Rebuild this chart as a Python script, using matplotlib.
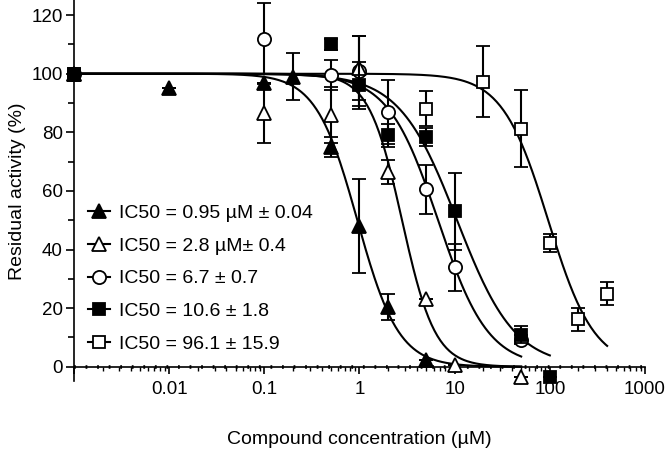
import numpy as np
import matplotlib
matplotlib.use('Agg')
import matplotlib.pyplot as plt
from matplotlib.lines import Line2D
from matplotlib.ticker import LogLocator, NullFormatter, FixedLocator, MultipleLocator

plt.rcParams['font.family'] = ['Liberation Sans', 'DejaVu Sans']

# Concentrations (uM), residual activity (%) and error bars per compound
tri_f_x = [0.001, 0.01, 0.1, 0.2, 0.5, 1, 2, 5]
tri_f_y = [100, 95, 97, 99, 75, 48, 20.5, 2.3]
tri_f_err = [0, 0, 0, 8, 3.5, 16, 4.5, 0]

tri_o_x = [0.001, 0.1, 0.5, 1, 2, 5, 10, 50]
tri_o_y = [100, 86.5, 86, 102, 66.5, 23, 0.6, -3.4]
tri_o_err = [0, 10, 9.5, 11, 4, 0, 0, 0]

circ_x = [0.001, 0.1, 0.5, 1, 2, 5, 10, 50]
circ_y = [100, 112, 99.6, 101, 87, 60.5, 34, 9.3]
circ_err = [0, 12, 5, 12, 11, 8.5, 8, 1.5]

sq_f_x = [0.001, 0.5, 1, 2, 5, 10, 50, 100]
sq_f_y = [100, 110, 96, 79, 78.5, 53, 11, -3.4]
sq_f_err = [0, 2, 8, 4, 3, 13, 3, 0]

sq_o_x = [0.001, 5, 20, 50, 100, 200, 400]
sq_o_y = [100, 88, 97.3, 81.3, 42.3, 16.2, 25]
sq_o_err = [0, 6, 12, 13, 3, 4, 4]

# Fit parameters (IC50, Hill slope, last x of fitted curve)
ic50s = [0.95, 2.8, 6.7, 10.6, 96.1]
hills = [2.0, 2.5, 1.65, 1.43, 1.8]
curve_ends = [50, 50, 50, 100, 400]

labels = ['IC50 = 0.95 \u00b5M \u00b1 0.04',
          'IC50 = 2.8 \u00b5M\u00b1 0.4',
          'IC50 = 6.7 \u00b1 0.7',
          'IC50 = 10.6 \u00b1 1.8',
          'IC50 = 96.1 \u00b1 15.9']

# data, marker, face colour, marker size, drawing order
series = [
    (tri_f_x, tri_f_y, tri_f_err, '^', 'k', 9.5, 3.5),
    (tri_o_x, tri_o_y, tri_o_err, '^', 'white', 9.5, 3.3),
    (circ_x, circ_y, circ_err, 'o', 'white', 9.5, 3.2),
    (sq_f_x, sq_f_y, sq_f_err, 's', 'k', 8, 3.4),
    (sq_o_x, sq_o_y, sq_o_err, 's', 'white', 8, 3.1),
]

fig = plt.figure(figsize=(6.66, 4.53), dpi=100)
ax = fig.add_axes([0.111, 0.158, 0.8575, 0.841])

# fitted dose-response curves
for ic50, h, xend in zip(ic50s, hills, curve_ends):
    xc = np.logspace(-3, np.log10(xend), 300)
    yc = 100 / (1 + (xc / ic50) ** h)
    ax.plot(xc, yc, color='k', lw=1.5, zorder=2)

handles = []
for (x, y, err, mk, fc, ms, z) in series:
    eb = ax.errorbar(x, y, yerr=err, fmt=mk, color='k', mfc=fc, mec='k', mew=1.3,
                     ms=ms, elinewidth=1.5, capsize=5, capthick=1.5, zorder=z)
    eb[0].set_clip_on(False)
    handles.append(Line2D([], [], color='k', lw=1.5, marker=mk, mfc=fc,
                          mec='k', mew=1.3, ms=ms))

ax.set_xscale('log')
ax.set_xlim(0.001, 1000)
ax.set_ylim(-5, 125)

ax.spines['top'].set_visible(False)
ax.spines['right'].set_visible(False)
ax.spines['bottom'].set_position(('data', 0))
ax.spines['left'].set_linewidth(1.2)
ax.spines['bottom'].set_linewidth(1.2)
# dotted overlay on the zero line
ax.axhline(0, color='k', lw=2.6, linestyle=(0, (0.5, 2.7)), zorder=1)

ax.xaxis.set_major_locator(FixedLocator([0.001, 0.01, 0.1, 1, 10, 100, 1000]))
ax.set_xticklabels(['', '0.01', '0.1', '1', '10', '100', '1000'])
ax.xaxis.set_minor_locator(LogLocator(base=10, subs=np.arange(2, 10), numticks=20))
ax.xaxis.set_minor_formatter(NullFormatter())
ax.yaxis.set_minor_locator(MultipleLocator(10))
ax.set_yticks([0, 20, 40, 60, 80, 100, 120])

ax.tick_params(axis='both', which='major', labelsize=13.5, width=1.2, direction='out')
ax.tick_params(axis='y', which='major', length=6, pad=2)
ax.tick_params(axis='y', which='minor', length=4, width=1.2)
ax.tick_params(axis='x', which='major', length=5, pad=5)
ax.tick_params(axis='x', which='minor', length=3, width=1)

ax.set_xlabel('Compound concentration (\u00b5M)', fontsize=14, labelpad=24)
ax.set_ylabel('Residual activity (%)', fontsize=14, labelpad=4)

ax.legend(handles, labels, loc='upper left', bbox_to_anchor=(0.0245, 0.465),
          frameon=False, fontsize=14, handlelength=1.15, handletextpad=0.45,
          labelspacing=0.78, borderpad=0, borderaxespad=0)

fig.savefig('out.png', dpi=100)
